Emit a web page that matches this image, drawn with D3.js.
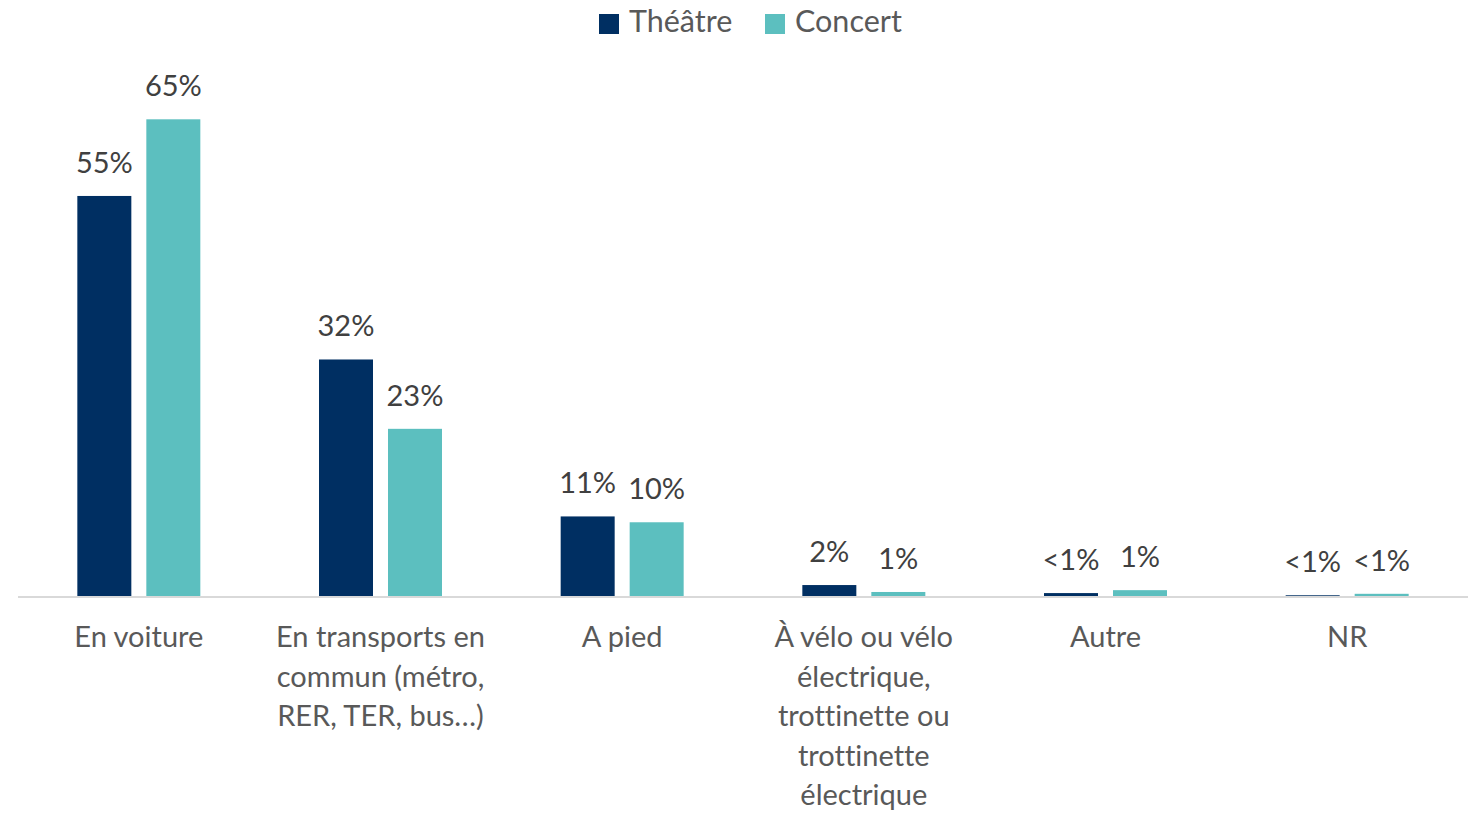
<!DOCTYPE html>
<html><head><meta charset="utf-8">
<script src="https://cdn.jsdelivr.net/npm/d3@7"></script>
<style>
html,body{margin:0;padding:0;background:#fff;}
svg{display:block;font-family:Lato,"Noto Sans",sans-serif;font-variant-ligatures:none;font-feature-settings:"liga" 0,"clig" 0;}
</style></head>
<body>
<svg id="chart" width="1473" height="813"></svg>
<script>
const categories = ["En voiture","En transports en commun","A pied","À vélo ou vélo électrique","Autre","NR"];
const categoryLines = [
  ["En voiture"],
  ["En transports en","commun (métro,","RER, TER, bus…)"],
  ["A pied"],
  ["À vélo ou vélo","électrique,","trottinette ou","trottinette","électrique"],
  ["Autre"],
  ["NR"]
];
const seriesNames = ["Théâtre","Concert"];
const theatreValues = [54.8, 32.4, 10.9, 1.5, 0.4, 0.1];
const concertValues = [65.3, 22.9, 10.1, 0.55, 0.8, 0.3];
const theatreLabels = ["55%","32%","11%","2%","<1%","<1%"];
const concertLabels = ["65%","23%","10%","1%","1%","<1%"];
const colors = ["#002f62","#5cbfbf"];

const svg = d3.select("#chart");
const baseY = 596;
const x0 = d3.scaleBand().domain(categories).range([18,1468]).padding(0);
const x1 = d3.scaleBand().domain(seriesNames).range([0,x0.bandwidth()]).paddingInner(0.2174).paddingOuter(0.86);
const y = d3.scaleLinear().domain([0,70]).range([baseY, baseY-70*7.3]);
const color = d3.scaleOrdinal().domain(seriesNames).range(colors);

const rows = categories.map((c,i)=>({cat:c, vals:[
  {s:"Théâtre", v:theatreValues[i], lab:theatreLabels[i]},
  {s:"Concert", v:concertValues[i], lab:concertLabels[i]}
]}));

// baseline
svg.append("line").attr("x1",18).attr("x2",1468).attr("y1",baseY+1).attr("y2",baseY+1)
  .attr("stroke","#d9d9d9").attr("stroke-width",2);

const g = svg.selectAll("g.cat").data(rows).enter().append("g")
  .attr("transform",d=>`translate(${x0(d.cat)},0)`);

g.selectAll("rect").data(d=>d.vals).enter().append("rect")
  .attr("x",d=>x1(d.s)).attr("width",x1.bandwidth())
  .attr("y",d=>y(d.v)).attr("height",d=>baseY-y(d.v))
  .attr("fill",d=>color(d.s));

g.selectAll("text.val").data(d=>d.vals).enter().append("text")
  .attr("class","val")
  .attr("x",d=>x1(d.s)+x1.bandwidth()/2)
  .attr("y",d=>y(d.v)-23)
  .attr("text-anchor","middle")
  .attr("font-size",29).attr("fill","#404040")
  .text(d=>d.lab);

// category labels
categories.forEach((c,i)=>{
  const t = svg.append("text").attr("text-anchor","middle")
    .attr("font-size",29).attr("fill","#595959");
  categoryLines[i].forEach((ln,j)=>{
    t.append("tspan").attr("x",x0(c)+x0.bandwidth()/2).attr("y",647+j*39.5).text(ln);
  });
});

// legend
const legendX = [599, 765];
seriesNames.forEach((s,i)=>{
  svg.append("rect").attr("x",legendX[i]).attr("y",14).attr("width",20).attr("height",20).attr("fill",color(s));
  svg.append("text").attr("x",legendX[i]+30).attr("y",32).attr("font-size",30.5).attr("fill","#595959").text(s);
});
</script>
</body></html>
